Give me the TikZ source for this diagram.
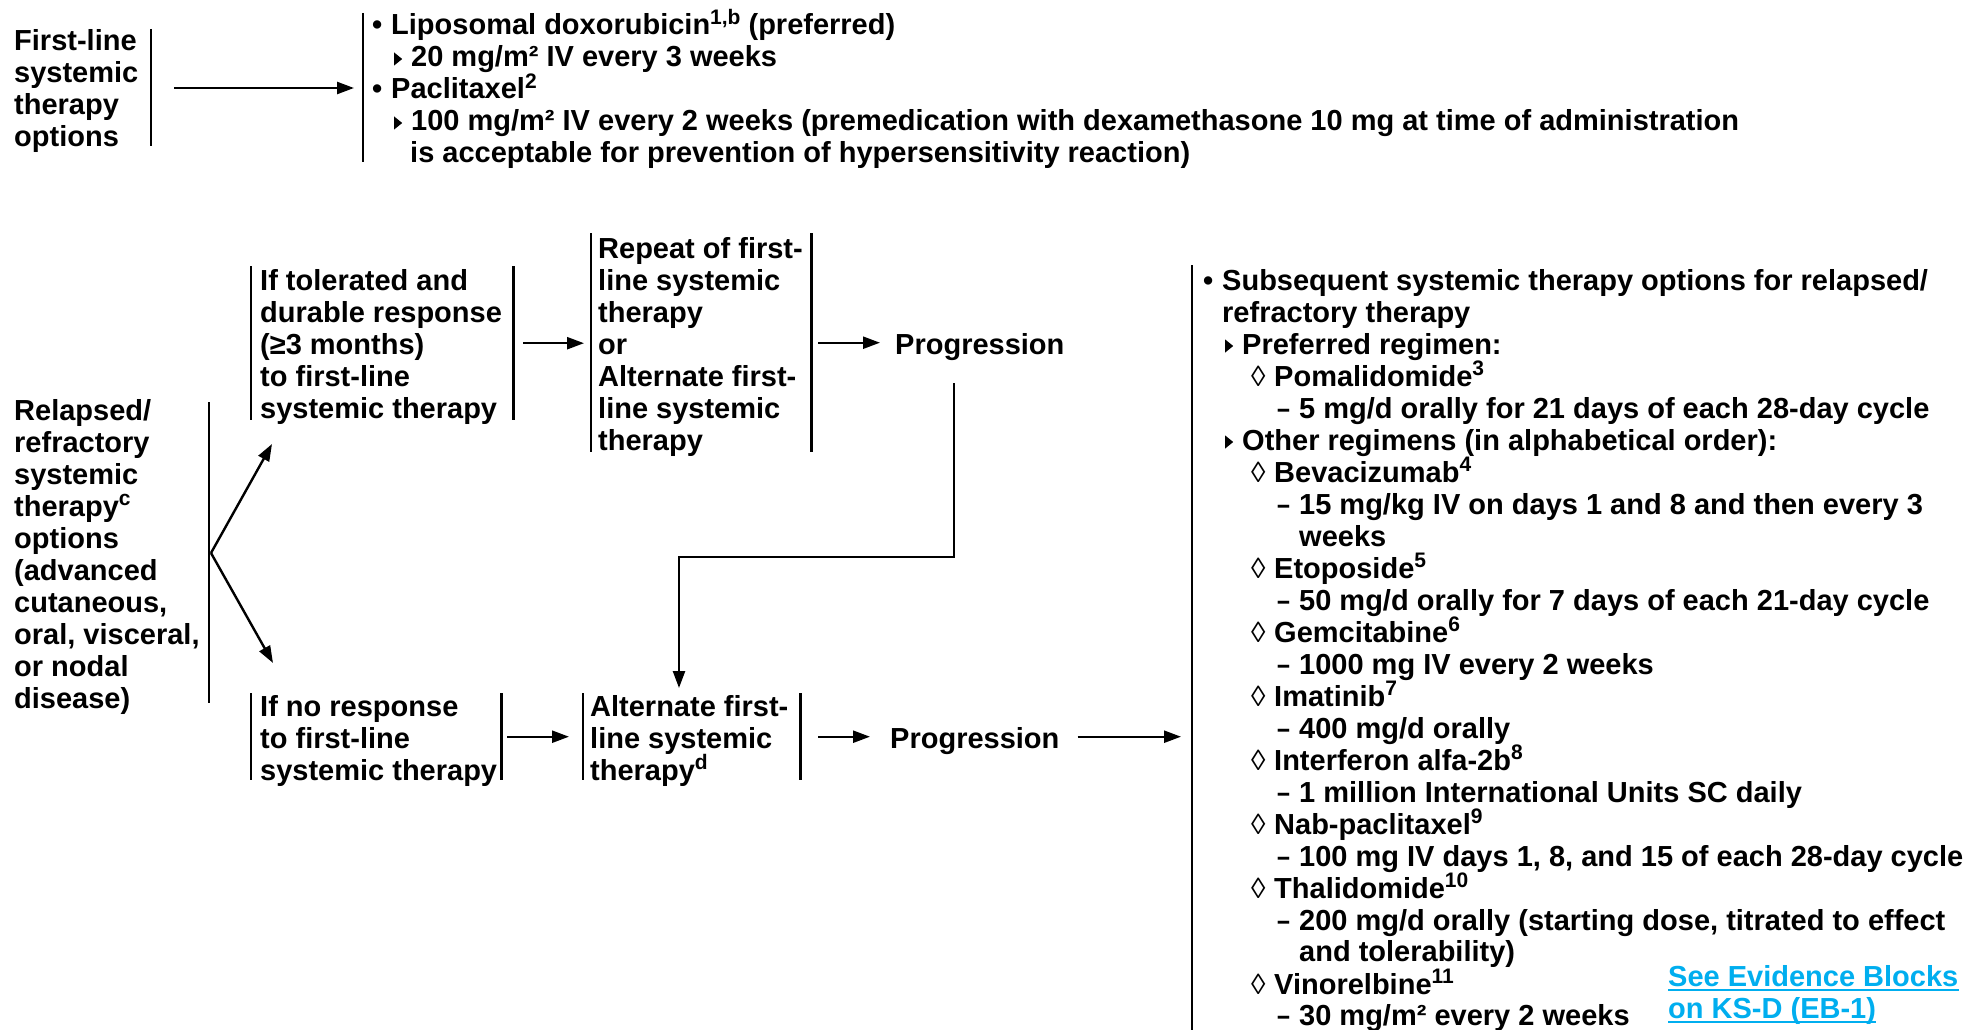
\documentclass[tikz,border=0pt]{standalone}
\usepackage{fontspec}
\setmainfont{Liberation Sans}
\usetikzlibrary{arrows.meta}
\definecolor{linkblue}{RGB}{0,174,239}
\newcommand\lst[1]{\vtop{\baselineskip=32pt\lineskiplimit=-\maxdimen\lineskip=0pt\halign{##\hfil\cr#1\crcr}}}
\newcommand\supr[1]{\smash{\raisebox{10.5pt}{\fontsize{21}{21}\selectfont #1}}}
\newcommand\bul{\makebox[19pt][l]{•}}
\newcommand\tri{\makebox[17pt][l]{\tikz[baseline=0pt]\fill (0pt,1.5pt)--(0pt,14.5pt)--(8pt,8pt)--cycle;}}
\newcommand\loz{\makebox[23pt][l]{\mdseries ◊}}
\newcommand\dsh{\hspace*{77pt}\makebox[22pt][l]{\scalebox{0.8}[1]{–}}}
\begin{document}
\begin{tikzpicture}[x=1pt,y=-1pt,
  txt/.style={font=\fontsize{29}{32}\selectfont\bfseries, inner sep=0pt, anchor=base west},
  ln/.style={line width=2.4pt},
  arr/.style={line width=2.4pt,-{Triangle[length=17pt,width=12pt]}},
  frm/.style 2 args={inner sep=0pt, minimum width=#1, minimum height=#2, anchor=north west}]
\fill[white] (0,0) rectangle (1976,1030);
\useasboundingbox (0,0) rectangle (1976,1030);

% ---------- first-line ----------
\node[txt] (fl) at (14,51) {\lst{First-line\cr systemic\cr therapy\cr options}};
\coordinate (flbT) at (151,29); \coordinate (flbB) at (151,146);
\draw[ln] (flbT) -- (flbB);
\coordinate (fobT) at (363,13); \coordinate (fobB) at (363,162);
\draw[ln] (fobT) -- (fobB);
\node[txt] (fo) at (372,35) {\lst{\bul Liposomal doxorubicin\supr{1,b} (preferred)\cr
\hspace*{22pt}\tri 20 mg/m² IV every 3 weeks\cr
\bul Paclitaxel\supr{2}\cr
\hspace*{22pt}\tri 100 mg/m² IV every 2 weeks (premedication with dexamethasone 10 mg at time of administration\cr
\hspace*{38pt}is acceptable for prevention of hypersensitivity reaction)}};
\coordinate (a0s) at (174,88); \coordinate (a0e) at (354,88);
\draw[arr] (a0s) -- (a0e);

% ---------- relapsed ----------
\node[txt] (rel) at (14,420) {\lst{Relapsed/\cr refractory\cr systemic\cr therapy\supr{c}\cr options\cr (advanced\cr cutaneous,\cr oral, visceral,\cr or nodal\cr disease)}};
\coordinate (relT) at (209,402); \coordinate (relB) at (209,703);
\draw[ln] (relT) -- (relB);
\coordinate (fork) at (211,553);
\coordinate (up) at (272,444);
\coordinate (dn) at (273,663);
\draw[arr] (fork) -- (up);
\draw[arr] (fork) -- (dn);

\node[frm={262pt}{154pt}] (f1) at (251,266) {};
\node[txt] (t1) at (260,290) {\lst{If tolerated and\cr durable response\cr (≥3 months)\cr to first-line\cr systemic therapy}};
\node[frm={220pt}{219pt}] (f2) at (591,233) {};
\node[txt] (t2) at (598,258) {\lst{Repeat of first-\cr line systemic\cr therapy\cr or\cr Alternate first-\cr line systemic\cr therapy}};
\node[txt] (p1) at (895,354) {Progression};

\node[frm={250pt}{87pt}] (f3) at (251,693) {};
\node[txt] (t3) at (260,716) {\lst{If no response\cr to first-line\cr systemic therapy}};
\node[frm={217pt}{87pt}] (f4) at (583,693) {};
\node[txt] (t4) at (590,716) {\lst{Alternate first-\cr line systemic\cr therapy\supr{d}}};
\node[txt] (p2) at (890,748) {Progression};

\foreach \f in {f1,f2,f3,f4}
  \draw[ln] (\f.north west) -- (\f.south west) (\f.north east) -- (\f.south east);

\draw[arr] ([xshift=10pt]f1.east) -- ([xshift=-7pt]f2.west |- f1.east);
\draw[arr] ([xshift=7pt]f2.east) -- ([xshift=-15pt]f2.east -| p1.west);
\draw[arr] ([xshift=6pt]f3.east) -- ([xshift=-14pt]f4.west);
\draw[arr] ([xshift=18pt]f4.east) -- ([xshift=-20pt]f4.east -| p2.west);

\coordinate (bigT) at (1192,265); \coordinate (bigB) at (1192,1030);
\draw[ln] (bigT) -- (bigB);
\draw[arr] ([xshift=18pt]f4.east -| p2.east) -- ([xshift=-11pt]f4.east -| bigT);

\coordinate (lp) at (954,383); \coordinate (lc) at (679,557);
\draw[arr, line join=miter] (lp) |- (lc) -- ([yshift=5pt]f4.north -| lc);

% ---------- subsequent list ----------
\node[txt] (rl) at (1200,290) {\lst{%
\hspace*{3pt}\bul Subsequent systemic therapy options for relapsed/\cr
\hspace*{22pt}refractory therapy\cr
\hspace*{25pt}\tri Preferred regimen:\cr
\hspace*{51pt}\loz Pomalidomide\supr{3}\cr
\dsh 5 mg/d orally for 21 days of each 28-day cycle\cr
\hspace*{25pt}\tri Other regimens (in alphabetical order):\cr
\hspace*{51pt}\loz Bevacizumab\supr{4}\cr
\dsh 15 mg/kg IV on days 1 and 8 and then every 3\cr
\hspace*{99pt}weeks\cr
\hspace*{51pt}\loz Etoposide\supr{5}\cr
\dsh 50 mg/d orally for 7 days of each 21-day cycle\cr
\hspace*{51pt}\loz Gemcitabine\supr{6}\cr
\dsh 1000 mg IV every 2 weeks\cr
\hspace*{51pt}\loz Imatinib\supr{7}\cr
\dsh 400 mg/d orally\cr
\hspace*{51pt}\loz Interferon alfa-2b\supr{8}\cr
\dsh 1 million International Units SC daily\cr
\hspace*{51pt}\loz Nab-paclitaxel\supr{9}\cr
\dsh 100 mg IV days 1, 8, and 15 of each 28-day cycle\cr
\hspace*{51pt}\loz Thalidomide\supr{10}\cr
\dsh 200 mg/d orally (starting dose, titrated to effect\cr
\hspace*{99pt}and tolerability)\cr
\hspace*{51pt}\loz Vinorelbine\supr{11}\cr
\dsh 30 mg/m² every 2 weeks}};

\node[txt, text=linkblue] (lk1) at (1668,986) {See Evidence Blocks};
\node[txt, text=linkblue] (lk2) at (1668,1018) {on KS-D (EB-1)};
\draw[linkblue, line width=2pt] ([yshift=-4pt]lk1.base west) -- ([yshift=-4pt]lk1.base east);
\draw[linkblue, line width=2pt] ([yshift=-4pt]lk2.base west) -- ([yshift=-4pt]lk2.base east);
\end{tikzpicture}
\end{document}
